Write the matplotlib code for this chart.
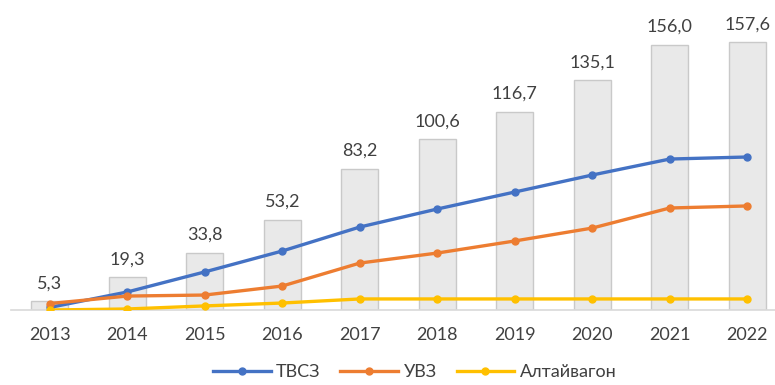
import numpy as np
import matplotlib.pyplot as plt

years = ["2013", "2014", "2015", "2016", "2017", "2018", "2019", "2020", "2021", "2022"]
total = [5.3, 19.3, 33.8, 53.2, 83.2, 100.6, 116.7, 135.1, 156.0, 157.6]
tvsz = [1.5, 10.6, 22.4, 34.7, 48.8, 59.4, 69.4, 79.4, 88.8, 90.0]
uvz = [3.8, 8.2, 8.8, 14.1, 27.6, 33.5, 40.6, 48.2, 60.0, 61.2]
altai = [0.0, 0.6, 2.4, 4.1, 6.5, 6.5, 6.5, 6.5, 6.5, 6.5]

plt.rcParams['font.family'] = ['Lato', 'DejaVu Sans']
text_col = "#404040"

fig = plt.figure(figsize=(7.75, 3.85), dpi=100)
ax = fig.add_axes([11 / 775, 75 / 385, 775 / 775, 289 / 385])

x = np.arange(len(years))
ax.bar(x, total, width=0.48, color="#E9E9E9", edgecolor="#C9C9C9",
       linewidth=1, zorder=1)
for xi, v in zip(x, total):
    ax.annotate(f"{v:.1f}".replace(".", ","), (xi, v), xytext=(0, 7),
                textcoords="offset points", ha="center", va="bottom",
                fontsize=13, color=text_col)

ax.plot(x, tvsz, color="#4472C4", lw=2.4, marker="o", ms=5, label="ТВСЗ", zorder=3)
ax.plot(x, uvz, color="#ED7D31", lw=2.4, marker="o", ms=5, label="УВЗ", zorder=3)
ax.plot(x, altai, color="#FFC000", lw=2.4, marker="o", ms=5, label="Алтайвагон", zorder=3)

ax.set_xlim(-0.5, 9.5)
ax.set_ylim(0, 170)
ax.set_xticks(x)
ax.set_xticklabels(years, fontsize=13, color=text_col)
ax.tick_params(axis="x", length=0, pad=12)
ax.set_yticks([])
for s in ["top", "right", "left"]:
    ax.spines[s].set_visible(False)
ax.spines["bottom"].set_color("#D9D9D9")
ax.spines["bottom"].set_linewidth(1.2)

fig.legend(loc="center", bbox_to_anchor=(0.535, 13 / 385), ncol=3, frameon=False,
           fontsize=13, handlelength=3.2, columnspacing=1.1, handletextpad=0.3,
           labelcolor=text_col)

fig.savefig("out.png", dpi=100)
